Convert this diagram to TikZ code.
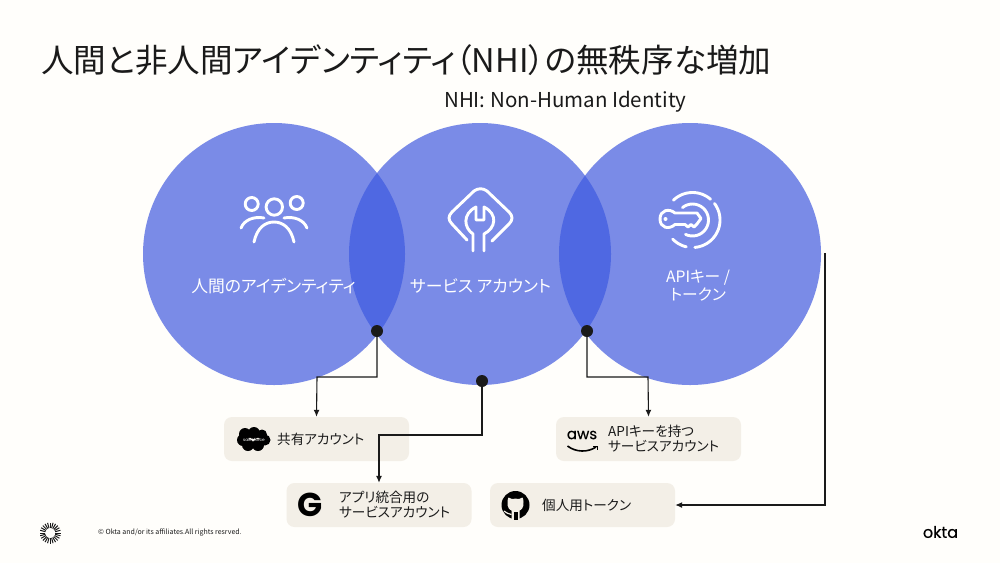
\documentclass[tikz,border=0pt]{standalone}
\usepackage{fontspec}
\setmainfont[RawFeature=+palt]{Noto Sans CJK JP}
\newfontfamily\logofont{Poppins}
\newfontfamily\oktafont[FakeBold=0.4]{Poppins}
\usetikzlibrary{arrows.meta,calc}
\definecolor{paper}{HTML}{FFFEFB}
\definecolor{disc}{HTML}{7A8BE7}
\definecolor{overlap}{HTML}{4F68E2}
\definecolor{tag}{HTML}{F3EFE7}
\definecolor{ink}{HTML}{1A1A1A}
\tikzset{
  disc/.style={circle,fill=disc,minimum size=262pt,inner sep=0pt},
  dot/.style={circle,fill=ink,minimum size=12pt,inner sep=0pt},
  tagbox/.style={rounded corners=8pt,fill=tag,minimum width=185pt,minimum height=44pt,inner sep=0pt},
  conn/.style={draw=ink,line width=1.1pt,-{Latex[length=7pt,width=6pt]}},
  lbl/.style={text=white,font=\fontsize{16.8}{18}\selectfont,align=center,inner sep=0pt},
  tagtxt/.style={text=ink,font=\fontsize{13.6}{15}\selectfont,align=left,anchor=west,inner sep=0pt},
  icon/.style={draw=white,line width=2.9pt,line cap=round,line join=round}
}
\newcommand{\keyarc}[3]{\draw[icon,domain=#1:#2,samples=25,variable=\t] plot ({692.5+#3*cos(\t)},{220+#3*sin(\t)});}
\begin{document}
\begin{tikzpicture}[x=1pt,y=-1pt]
\fill[paper] (0,0) rectangle (1000,563);
\useasboundingbox (0,0) rectangle (1000,563);
% Titel
\node[anchor=west,inner sep=0pt,text=ink,font=\fontsize{32.6}{36}\selectfont] (title) at (41,60) {人間と非人間アイデンティティ（NHI）の無秩序な増加};
\node[anchor=west,inner sep=0pt,text=ink,font=\fontsize{20.5}{22}\selectfont] (subtitle) at (444,102) {NHI: Non-Human Identity};
% Kreise
\node[disc] (human) at (274,254) {};
\node[disc] (service) at (480,254) {};
\node[disc] (apikey) at (690,254) {};
\begin{scope}
\clip (274,254) circle (131);
\fill[overlap] (480,254) circle (131);
\end{scope}
\begin{scope}
\clip (480,254) circle (131);
\fill[overlap] (690,254) circle (131);
\end{scope}
% Beschriftung
\node[lbl] (humanlbl) at (273.5,286) {人間のアイデンティティ};
\node[lbl] (servicelbl) at (480.5,286) {サービス アカウント};
\node[lbl,font=\fontsize{15.7}{18}\selectfont] (apikeylbl) at (698,286) {APIキー /\\トークン};
% Icon Menschen
\draw[icon] (251.7,204) circle (6.5) (274.3,207) circle (8.2) (296.7,203) circle (6.5);
\draw[icon] (254,242) .. controls (257,228) and (265,222) .. (274,222) .. controls (283,222) and (291,228) .. (294,242);
\draw[icon] (241,228) .. controls (244,220) and (254,216) .. (264,218);
\draw[icon] (307,228) .. controls (304,220) and (294,216) .. (284,218);
% Icon Schluessel
\draw[icon] (473,251) -- (473,234) .. controls (464,228) and (462,214) .. (476,207) -- (476,220) -- (484,220) -- (484,207) .. controls (498,214) and (496,228) .. (484,234) -- (484,251);
\draw[icon] (467,240) -- (452,224) .. controls (448,220) and (448,216) .. (452,212) -- (474,191) .. controls (478,188) and (483,188) .. (487,191) -- (509,212) .. controls (513,216) and (513,220) .. (509,224) -- (492,241);
% Icon Key
\keyarc{-129}{116}{16}
\keyarc{-134}{-49}{27.5}
\keyarc{-37}{85}{27.5}
\keyarc{103}{136}{27.5}
\draw[icon,fill=disc] (675,213) -- (697,213) -- (701,218.5) -- (697,224) -- (694,227) -- (691,224.5) -- (688,227) -- (685,224.5) -- (675,224.5) .. controls (669,230) and (660,228) .. (660,219) .. controls (660,210) and (669,208) .. (675,213) -- cycle;
\fill[white] (665.5,219) circle (2);
% Boxen
\node[tagbox] (shared) at (316.5,439) {};
\node[tagbox] (appint) at (379,505) {};
\node[tagbox] (awssvc) at (648.5,439) {};
\node[tagbox] (token) at (582.5,505) {};
\node[tagtxt] (sharedtxt) at (277,439) {共有アカウント};
\node[tagtxt] (appinttxt) at (339,504.5) {アプリ統合用の\\サービスアカウント};
\node[tagtxt] (awssvctxt) at (608,439) {APIキーを持つ\\サービスアカウント};
\node[tagtxt] (tokentxt) at (542,505) {個人用トークン};
% Logos
\fill[black] (245,434) circle (6) (254,433) circle (6) (262,434.5) circle (5) (265,440) circle (5.5) (258,445) circle (6) (248,445) circle (6) (243,440) circle (6);
\node[inner sep=0pt,text=white,font=\logofont\fontsize{4.2}{5}\selectfont] (sflogo) at (254,439.5) {salesforce};
\node[inner sep=0pt,text=black,font=\logofont\bfseries\fontsize{33}{34}\selectfont] (glogo) at (310,504.5) {G};
\node[inner sep=0pt,text=black,font=\oktafont\fontsize{15}{17}\selectfont] (awslogo) at (582,435) {aws};
\draw[black,line width=1.6pt] (567.5,446) .. controls (576,452.5) and (588,452.5) .. (596,447);
\draw[black,line width=1pt] (593,446) -- (597,446) -- (597,449.5);
\fill[black] (515.5,505) circle (14);
\fill[tag] (507.5,502) .. controls (507.5,499.5) and (508,498.5) .. (508.5,497.5) .. controls (510,497.5) and (511,498.5) .. (512,499) .. controls (514,498.5) and (517,498.5) .. (519,499) .. controls (520,498.5) and (521,497.5) .. (522.5,497.5) .. controls (523,498.5) and (523.5,499.5) .. (523.5,502) .. controls (524,508) and (521,510) .. (519.5,510.5) -- (519.5,519) -- (511.5,519) -- (511.5,510.5) .. controls (510,510) and (507,508) .. (507.5,502) -- cycle;
\draw[tag,line width=1.2pt] (504,511) .. controls (507,512) and (508,515) .. (511.5,514.5);
\fill[black] (513.5,512) rectangle (517.5,520);
% Verbindungen
\node[dot] (dotA) at (377,331) {};
\node[dot] (dotB) at (482,381) {};
\node[dot] (dotC) at (587,331) {};
\coordinate (bendA) at (317,377);
\coordinate (bendB) at (379,435);
\coordinate (bendC) at (648,377);
\coordinate (start) at (825,253);
\draw[conn] (dotA.center) |- (bendA) -- (shared.north);
\draw[conn] (dotB.center) |- (bendB) -- (appint.north);
\draw[conn] (dotC.center) |- (bendC) -- (awssvc.north);
\draw[conn] (start) |- (token.east);
% Fuss
\node[anchor=west,inner sep=0pt,text=ink,font=\fontsize{7}{8}\selectfont] (legal) at (98,533) {© Okta and/or its affiliates.All rights resrved.};
\node[inner sep=0pt,text=black,font=\oktafont\fontsize{16}{18}\selectfont] (okta) at (940.5,532) {okta};
\foreach \a in {0,15,...,345}
  \draw[ink,line width=1pt] (50.3,533) ++(\a:5) -- ++(\a:5.5);
\end{tikzpicture}
\end{document}
